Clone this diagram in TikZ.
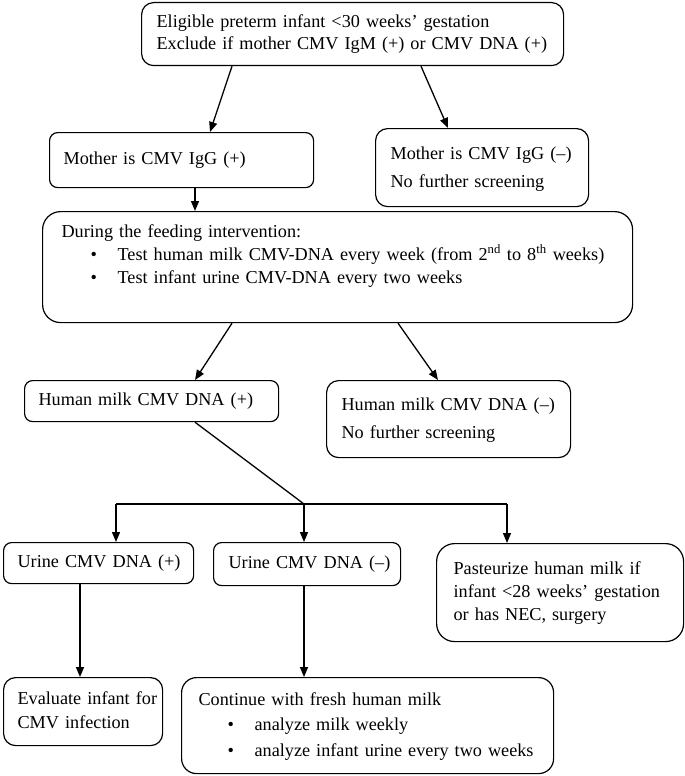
\documentclass[tikz,border=0pt]{standalone}
\usepackage{fontspec}
\setmainfont{Liberation Serif}
\usetikzlibrary{arrows.meta,calc}
\newcommand{\diagfont}{\fontsize{18.2}{22}\selectfont}
\newcommand{\bul}{\makebox[56pt][l]{\hspace*{29pt}\textbullet}}
\newenvironment{lines}[1][1]{\renewcommand{\arraystretch}{#1}\begin{tabular}{@{}l@{}}}{\end{tabular}}
\tikzset{
  box/.style={draw, line width=1.2pt, rounded corners=#1, anchor=north west,
    align=left, font=\diagfont, inner ysep=0pt},
  conn/.style={line width=1.3pt},
  arr/.style={line width=1.3pt, -{Triangle[length=10pt,width=8pt]}}
}
\begin{document}
\begin{tikzpicture}[x=1pt,y=1pt]
\useasboundingbox (0,0) rectangle (685,-776);
\node[box=12pt, inner xsep=15pt, text width=392pt, minimum height=63pt] (b1) at (141,-2)
  {\begin{lines}Eligible preterm infant <30 weeks’ gestation\\Exclude if mother CMV IgM (+) or CMV DNA (+)\end{lines}};
\node[box=8pt, inner xsep=14pt, text width=236pt, minimum height=55pt] (bA) at (49,-132)
  {\begin{lines}Mother is CMV IgG (+)\end{lines}};
\node[box=12pt, inner xsep=15pt, text width=183pt, minimum height=78pt] (bB) at (375,-128)
  {\begin{lines}[1.27]Mother is CMV IgG (–)\\No further screening\end{lines}};
\node[box=18pt, inner xsep=19pt, text width=552pt, minimum height=111pt] (bC) at (42,-211)
  {\begin{lines}[1.045]During the feeding intervention:\\
   \bul Test human milk CMV-DNA every week (from 2\textsuperscript{nd} to 8\textsuperscript{th} weeks)\\
   \bul Test infant urine CMV-DNA every two weeks\\ \mbox{}\end{lines}};
\node[box=8pt, inner xsep=14pt, text width=226pt, minimum height=41pt] (bD) at (24,-380)
  {\begin{lines}Human milk CMV DNA (+)\end{lines}};
\node[box=12pt, inner xsep=15pt, text width=214pt, minimum height=77pt] (bE) at (326,-380)
  {\begin{lines}[1.27]Human milk CMV DNA (–)\\No further screening\end{lines}};
\node[box=8pt, inner xsep=14pt, text width=162pt, minimum height=41pt] (bF) at (3,-542)
  {\begin{lines}Urine CMV DNA (+)\end{lines}};
\node[box=8pt, inner xsep=15pt, text width=157pt, minimum height=43pt] (bG) at (213,-542)
  {\begin{lines}Urine CMV DNA (–)\end{lines}};
\node[box=18pt, inner xsep=17pt, text width=213pt, minimum height=98pt] (bH) at (436,-543)
  {\begin{lines}[1.045]Pasteurize human milk if\\infant <28 weeks’ gestation\\or has NEC, surgery\end{lines}};
\node[box=12pt, inner xsep=14pt, text width=131pt, minimum height=68pt] (bI) at (3,-677)
  {\begin{lines}[1.09]Evaluate infant for\\CMV infection\end{lines}};
\node[box=15pt, inner xsep=17pt, text width=338pt, minimum height=96pt] (bJ) at (181,-677)
  {\begin{lines}[1.16]Continue with fresh human milk\\
   \bul analyze milk weekly\\
   \bul analyze infant urine every two weeks\end{lines}};
% connectors
\draw[arr] ($(b1.south west)+(91,0)$) -- ($(bA.north west)+(161,0)$);
\draw[arr] ($(b1.south west)+(280,0)$) -- ($(bB.north west)+(73,0)$);
\draw[arr] ($(bA.south west)+(146,0)$) -- ($(bC.north west)+(153,0)$);
\draw[arr] ($(bC.south west)+(190,0)$) -- ($(bD.north west)+(171,0)$);
\draw[arr] ($(bC.south west)+(356,0)$) -- ($(bE.north west)+(112,0)$);
\coordinate (j) at ($(bG.north west)+(91,38)$);
\coordinate (jl) at ($(bF.north west)+(113,38)$);
\coordinate (jr) at ($(bH.north west)+(71,39)$);
\draw[conn] ($(bD.south west)+(171,0)$) -- (j);
\draw[conn] (jl) -- (jr);
\draw[arr] (jl) -- ($(bF.north west)+(113,0)$);
\draw[arr] (j) -- ($(bG.north west)+(91,0)$);
\draw[arr] (jr) -- ($(bH.north west)+(71,0)$);
\draw[arr] ($(bF.south west)+(77,0)$) -- ($(bI.north west)+(77,0)$);
\draw[arr] ($(bG.south west)+(91,0)$) -- ($(bJ.north west)+(123,0)$);
\end{tikzpicture}
\end{document}
